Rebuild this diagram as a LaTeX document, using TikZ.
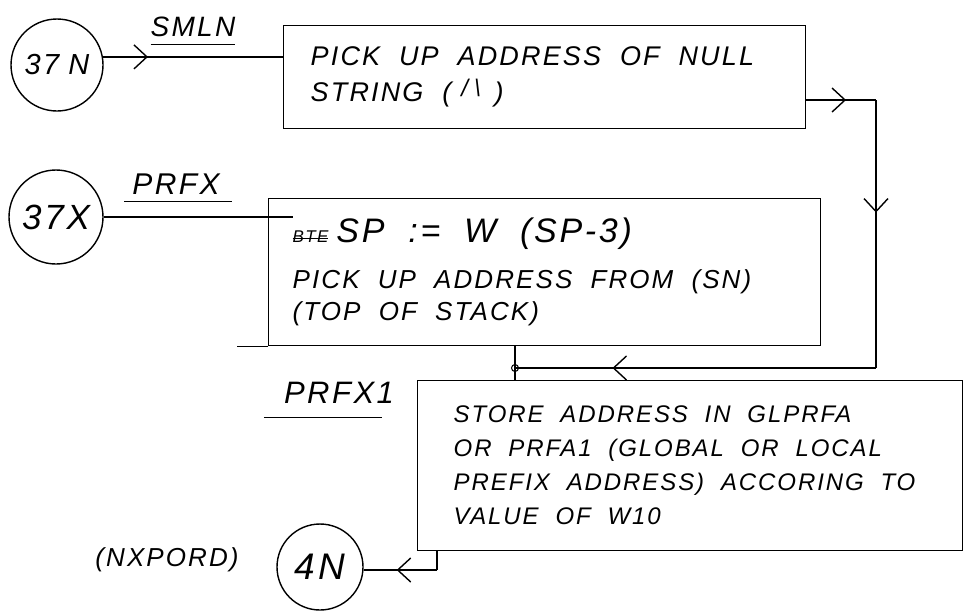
\documentclass[tikz,border=0pt]{standalone}
\usepackage{fontspec}
\setmainfont{Liberation Sans}
\newfontfamily\hand[LetterSpace=8]{Liberation Sans}
\usetikzlibrary{arrows.meta,decorations.markings,calc}
\newcommand\hwl[1]{\mbox{#1}}
\newcommand\wg{\hspace{0.7em}}
\newcommand\strk[1]{\setbox0\hbox{#1}\rlap{\rule[0.4ex]{\wd0}{0.9pt}}\box0}
\newcommand\hfnt[2]{\hand\itshape\fontsize{#1}{#2}\selectfont}
\begin{document}
\begin{tikzpicture}[x=1pt,y=-1pt,
  ink/.style={line width=1.4pt, draw=black},
  box/.style={ink, rectangle, anchor=north west, align=left, inner ysep=0pt},
  term/.style={ink, circle, inner sep=0pt},
  lbl/.style={inner sep=0pt},
  barb/.style={postaction=decorate, decoration={markings,
    mark=at position #1 with {\arrow{Straight Barb[length=13pt,width=24pt]}}}},
]
\useasboundingbox (0,0) rectangle (968,611);
\fill[white] (0,0) rectangle (968,611);

% terminals
\node[term, minimum size=92pt, font=\hfnt{29}{29}] (n37n) at (57,65) {37\hspace{9pt}N};
\node[term, minimum size=94pt, font=\hfnt{35}{35}] (n37x) at (56,217) {37X};
\node[term, minimum size=86pt, font=\hfnt{37}{37}] (n4n) at (320,567) {4N};

% boxes
\node[box, minimum width=522pt, minimum height=103pt, inner xsep=27pt, text width=468pt,
      font=\hfnt{27}{36}] (b1) at (283,25)
  {\hwl{PICK\wg UP\wg ADDRESS\wg OF\wg NULL}\\\hwl{STRING\wg(\hspace{10pt}{\fontsize{24}{24}\selectfont\raisebox{5pt}{/\hspace{6pt}\textbackslash}}\hspace{14pt})}};
\node[box, minimum width=552pt, minimum height=147pt, inner xsep=24pt, text width=504pt,
      font=\hfnt{26}{32}] (b2) at (268,198)
  {\hwl{{\fontsize{17}{17}\selectfont\strk{BTE}}\hspace{8pt}{\fontsize{34}{34}\selectfont SP\wg:=\wg W\wg(SP-3)}}\\[14pt]
   \hwl{PICK\wg UP\wg ADDRESS\wg FROM\wg(SN)}\\\hwl{(TOP\wg OF\wg STACK)}};
\node[box, minimum width=545pt, minimum height=170pt, inner xsep=36pt, text width=473pt,
      font=\hfnt{24}{34}] (b3) at (417,380)
  {\hwl{STORE\wg ADDRESS\wg IN\wg GLPRFA}\\\hwl{OR\wg PRFA1\wg(GLOBAL\wg OR\wg LOCAL}\\\hwl{PREFIX\wg ADDRESS)\wg ACCORING\wg TO}\\\hwl{VALUE\wg OF\wg W10}};
\draw[ink] (b2.south west) -- ++(-31,0);

% labels
\node[lbl, font=\hfnt{28}{28}] (smln) at (193,27) {SMLN};
\draw[ink, line width=1.2pt] ([yshift=-7pt]smln.south west) -- ([yshift=-7pt]smln.south east);
\node[lbl, font=\hfnt{30}{30}] (prfx) at (176,184) {PRFX};
\draw[ink, line width=1.2pt] ([xshift=-8pt,yshift=-7pt]prfx.south west) -- ([xshift=12pt,yshift=-7pt]prfx.south east);
\node[lbl, font=\hfnt{31}{31}] (prfx1) at (339,393) {PRFX1};
\draw[ink, line width=1.2pt] ([xshift=-20pt,yshift=-14pt]prfx1.south west) -- ([xshift=-12pt,yshift=-14pt]prfx1.south east);
\node[lbl, font=\hfnt{26}{26}] (nxpord) at (167,560) {(NXPORD)};

% connectors
\coordinate (c1) at (876,100);
\coordinate (c2) at (876,368);
\coordinate (j) at (515,368);
\coordinate (d) at (437,570);

\draw[ink, barb=0.25] (n37n.10) -- (n37n.10 -| b1.west);
\draw[ink] (n37x.east) -- ($(b2.west |- n37x.east)+(25,0)$);
\draw[ink, barb=0.57] (b1.east |- c1) -- (c1);
\draw[ink, barb=0.42] (c1) -- (c2);
\draw[ink, barb=0.73] (c2) -- (j);
\draw[ink] (j |- b2.south) -- (j |- b3.north);
\node[draw, circle, line width=1pt, minimum size=7pt, inner sep=0pt] (jd) at (j) {};
\draw[ink] (d |- b3.south) -- (d);
\draw[ink, barb=0.55] (d) -- (d -| n4n.east);
\end{tikzpicture}
\end{document}
